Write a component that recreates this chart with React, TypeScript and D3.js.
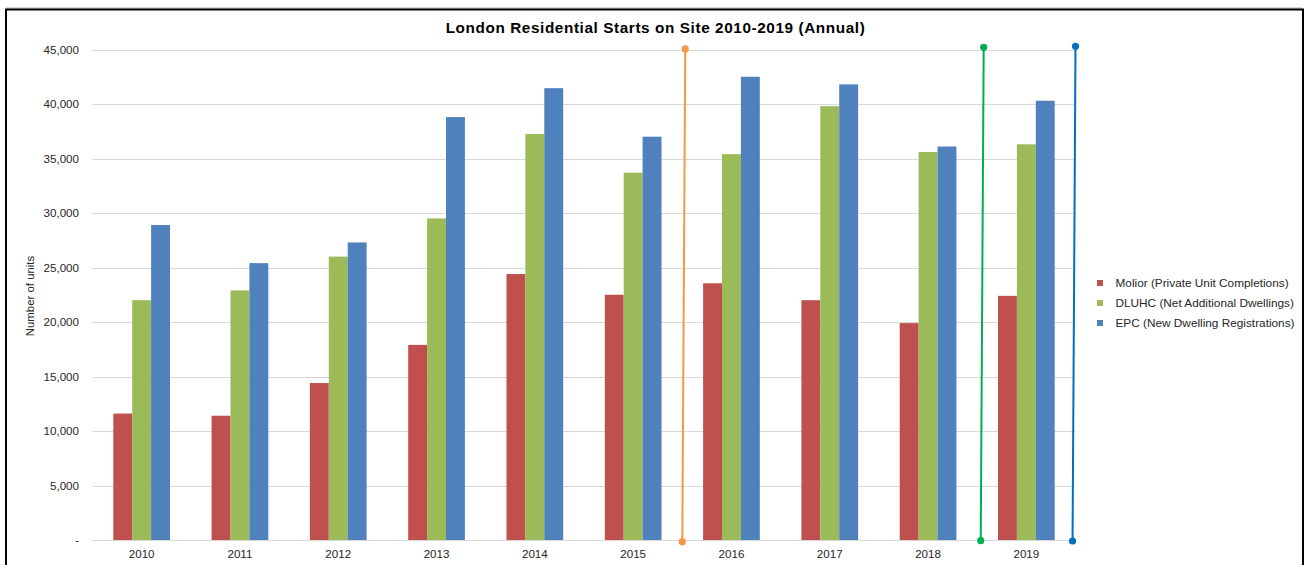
import React from "react";
import * as d3 from "d3";

const years = ["2010", "2011", "2012", "2013", "2014", "2015", "2016", "2017", "2018", "2019"];
const seriesNames = [
  "Molior (Private Unit Completions)",
  "DLUHC (Net Additional Dwellings)",
  "EPC (New Dwelling Registrations)",
];
const seriesColors = ["#C0504D", "#9BBB59", "#4F81BD"];
const molior = [11600, 11400, 14400, 17900, 24400, 22500, 23550, 22000, 19900, 22400];
const dluhc = [22000, 22900, 26000, 29500, 37250, 33700, 35400, 39800, 35600, 36300];
const epc = [28900, 25400, 27300, 38800, 41450, 37000, 42500, 41800, 36100, 40300];
const yTicks = [0, 5000, 10000, 15000, 20000, 25000, 30000, 35000, 40000, 45000];

// hand-drawn marker lines: positions in category-index units and values
const markerColors = ["#F79646", "#00B050", "#0070C0"];
const markerTopIdx = [6.03, 9.066, 10.0];
const markerBottomIdx = [6.0, 9.036, 9.97];
const markerTopVal = [45050, 45200, 45290];
const markerBottomVal = [-155, -65, -90];

const W = 1305;
const H = 565;
const plotLeft = 92.5;
const plotRight = 1075.5;
const plotTop = 49.5;
const plotBottom = 540;
const FONT = "'Liberation Sans', Arial, sans-serif";
const FS = 11.6;

export default function App() {
  const series = [molior, dluhc, epc];
  const x = d3.scaleBand<string>().domain(years).range([plotLeft, plotRight]).paddingInner(0.423).paddingOuter(0.2115);
  const xs = d3.scaleBand<number>().domain([0, 1, 2]).range([0, x.bandwidth()]);
  const xi = d3.scaleLinear().domain([0, 10]).range([plotLeft, plotRight]);
  const y = d3.scaleLinear().domain([0, 45000]).range([plotBottom, plotTop]);
  const fmt = d3.format(",");

  return (
    <svg width={W} height={H} style={{ position: "absolute", left: 0, top: 0, background: "#fff" }} fontFamily={FONT}>
      <rect x={0} y={0} width={W} height={H} fill="#fff" />
      <line x1={6} x2={1302} y1={8} y2={8} stroke="#aaa" strokeWidth={1} />
      <rect x={6} y={9.5} width={1297} height={600} fill="none" stroke="#000" strokeWidth={2} />
      <text x={655.5} y={32.5} textAnchor="middle" fontSize={15.3} fontWeight="bold" letterSpacing={0.6} fill="#000">
        London Residential Starts on Site 2010-2019 (Annual)
      </text>
      {yTicks.map((t) => (
        <g key={t}>
          <line x1={plotLeft} x2={plotRight} y1={Math.round(y(t)) + 0.5} y2={Math.round(y(t)) + 0.5} stroke="#D9D9D9" strokeWidth={1} />
          <text x={79} y={y(t)} dy="0.35em" textAnchor="end" fontSize={FS} fill="#262626">
            {t === 0 ? "-" : fmt(t)}
          </text>
        </g>
      ))}
      <text transform={`translate(33.5,296) rotate(-90)`} textAnchor="middle" fontSize={FS - 0.2} fill="#262626">
        Number of units
      </text>
      {years.map((yr, i) => (
        <g key={yr}>
          {series.map((s, k) => (
            <rect
              key={k}
              x={(x(yr) as number) + (xs(k) as number)}
              y={y(s[i])}
              width={xs.bandwidth()}
              height={y(0) - y(s[i])}
              fill={seriesColors[k]}
            />
          ))}
          <text x={(x(yr) as number) + x.bandwidth() / 2} y={558} textAnchor="middle" fontSize={FS} fill="#262626">
            {yr}
          </text>
        </g>
      ))}
      {markerColors.map((c, k) => (
        <g key={c}>
          <line
            x1={xi(markerTopIdx[k])}
            y1={y(markerTopVal[k])}
            x2={xi(markerBottomIdx[k])}
            y2={y(markerBottomVal[k])}
            stroke={c}
            strokeWidth={2}
          />
          <circle cx={xi(markerTopIdx[k])} cy={y(markerTopVal[k])} r={3.6} fill={c} />
          <circle cx={xi(markerBottomIdx[k])} cy={y(markerBottomVal[k])} r={3.6} fill={c} />
        </g>
      ))}
      {seriesNames.map((n, k) => (
        <g key={n} transform={`translate(1097,${283 + k * 20})`}>
          <rect x={0} y={-3} width={6} height={6} fill={seriesColors[k]} />
          <text x={18.5} y={0} dy="0.35em" fontSize={11.8} fill="#262626">
            {n}
          </text>
        </g>
      ))}
    </svg>
  );
}
